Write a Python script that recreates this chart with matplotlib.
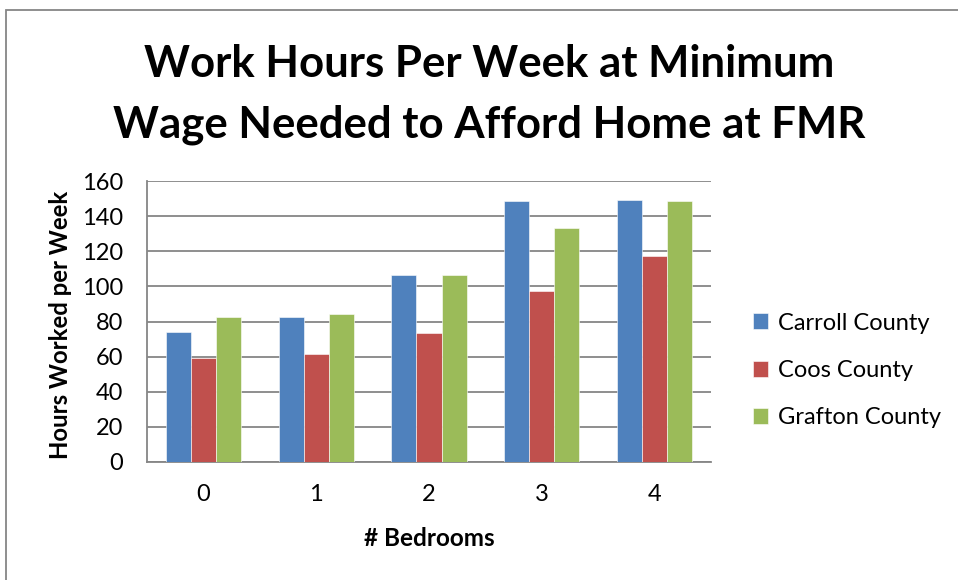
import matplotlib
matplotlib.use("Agg")
import matplotlib.pyplot as plt
import numpy as np
from matplotlib.patches import Rectangle

plt.rcParams['font.family'] = ['Lato', 'DejaVu Sans']

bedrooms = ["0", "1", "2", "3", "4"]
carroll = [74, 82.3, 106.7, 148.6, 149.2]
coos = [59, 61.6, 73.2, 97.6, 117.2]
grafton = [82.7, 84.5, 106.4, 133.5, 148.6]
series_names = ["Carroll County", "Coos County", "Grafton County"]
colors = ["#4F81BD", "#C0504D", "#9BBB59"]
yticks = [0, 20, 40, 60, 80, 100, 120, 140, 160]

title = "Work Hours Per Week at Minimum\nWage Needed to Afford Home at FMR"
xlabel = "# Bedrooms"
ylabel = "Hours Worked per Week"

W, H = 958, 580
fig = plt.figure(figsize=(W / 100, H / 100), dpi=100)
fig.patch.set_facecolor("white")

# chart-area border
fig.add_artist(Rectangle((6 / W, -0.05), 1.1, 1 - 10 / H + 0.05,
                         transform=fig.transFigure, fill=False,
                         edgecolor="#868686", linewidth=1.3))

ax = fig.add_axes([147 / W, 1 - 462 / H, 564 / W, 281 / H])

x = np.arange(len(bedrooms))
bw = 0.222
for i, (vals, name, c) in enumerate(zip([carroll, coos, grafton], series_names, colors)):
    ax.bar(x + (i - 1) * bw, vals, width=bw, color=c, label=name,
           edgecolor="white", linewidth=0.4, zorder=3)

ax.set_xlim(-0.5, len(bedrooms) - 0.5)
ax.set_ylim(0, 160)
ax.set_yticks(yticks)
ax.set_xticks(x)
ax.set_xticklabels(bedrooms)
ax.grid(axis="y", color="#868686", linewidth=1.3, zorder=0)
ax.set_axisbelow(True)
for s in ["top", "right"]:
    ax.spines[s].set_visible(False)
for s in ["left", "bottom"]:
    ax.spines[s].set_color("#868686")
    ax.spines[s].set_linewidth(1.3)
ax.tick_params(axis="both", length=0, labelsize=17, colors="black")
ax.tick_params(axis="y", pad=17)
ax.tick_params(axis="x", pad=16)

ax.set_xlabel(xlabel, fontsize=17.5, fontweight="bold")
ax.xaxis.set_label_coords(0.5, (462 - 538) / 281)
ax.xaxis.label.set_va("center")
ax.set_ylabel(ylabel, fontsize=17.2, fontweight="bold")
ax.yaxis.set_label_coords((61 - 147) / 564, (462 - 325) / 281)
ax.yaxis.label.set_va("center")

fig.text(489 / W, 1 - 94.5 / H, title, ha="center", va="center",
         fontsize=31.5, fontweight="bold", linespacing=1.63)

fig.legend(loc="center left", bbox_to_anchor=(753 / W, 1 - 370.5 / H),
           frameon=False, fontsize=17, handlelength=0.65, handleheight=0.65,
           handletextpad=0.4, labelspacing=1.12, borderpad=0, borderaxespad=0)

fig.savefig("out.png", dpi=100)
